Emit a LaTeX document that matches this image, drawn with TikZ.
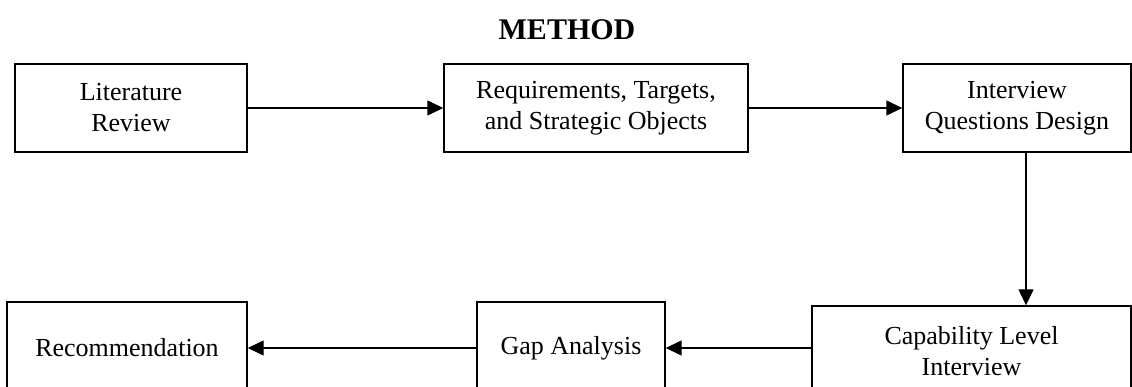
\documentclass[tikz,border=0pt]{standalone}
\usepackage{fontspec}
\setmainfont{Liberation Serif}
\usetikzlibrary{arrows.meta}
\begin{document}
\begin{tikzpicture}[x=1pt,y=-1pt,
  box/.style={draw, line width=1.4pt, align=center, inner sep=0pt,
    font=\fontsize{26}{31}\selectfont},
  arr/.style={line width=1.4pt, -{Triangle[length=16pt,width=15pt]}}]
\useasboundingbox (0,0) rectangle (1132,387);
\clip (0,0) rectangle (1132,387);
\node[font=\bfseries\fontsize{30}{34}\selectfont] (title) at (567,30) {METHOD};
\node[box, minimum width=232pt, minimum height=88pt] (lit) at (131,108) {Literature\\Review};
\node[box, minimum width=304pt, minimum height=88pt] (req) at (596,108) {Requirements, Targets,\\and Strategic Objects};
\node[box, minimum width=228pt, minimum height=88pt] (int) at (1017,108) {Interview\\Questions Design};
\node[box, minimum width=319pt, minimum height=90pt] (cap) at (971.5,351) {Capability Level\\Interview};
\node[box, minimum width=188pt, minimum height=92pt] (gap) at (571,348) {Gap Analysis};
\node[box, minimum width=240pt, minimum height=92pt] (rec) at (127,348) {Recommendation};
\draw[arr] (lit) -- (req);
\draw[arr] (req) -- (int);
\draw[arr] ([xshift=9pt]int.south) -- ([xshift=9pt]int.south |- cap.north);
\draw[arr] (cap.west |- gap.east) -- (gap.east);
\draw[arr] (gap) -- (rec);
\end{tikzpicture}
\end{document}
